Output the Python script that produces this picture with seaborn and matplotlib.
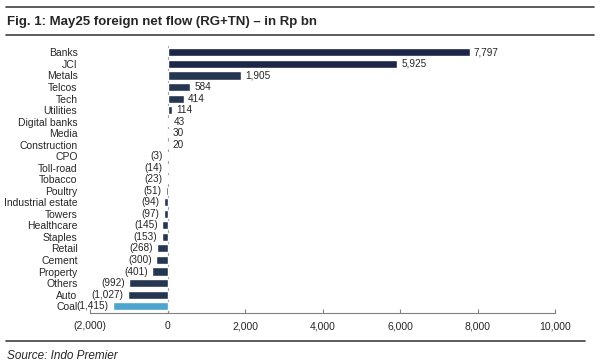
import matplotlib
matplotlib.use('Agg')
import matplotlib.pyplot as plt
import pandas as pd
import seaborn as sns

sectors = ['Banks', 'JCI', 'Metals', 'Telcos', 'Tech', 'Utilities', 'Digital banks', 'Media',
           'Construction', 'CPO', 'Toll-road', 'Tobacco', 'Poultry', 'Industrial estate', 'Towers',
           'Healthcare', 'Staples', 'Retail', 'Cement', 'Property', 'Others', 'Auto', 'Coal']
net_flow = [7797, 5925, 1905, 584, 414, 114, 43, 30, 20, -3, -14, -23, -51, -94, -97,
            -145, -153, -268, -300, -401, -992, -1027, -1415]
xticks = [-2000, 0, 2000, 4000, 6000, 8000, 10000]

df = pd.DataFrame({'sector': sectors, 'flow': net_flow})
# colour groups: index/banks darker navy, coal highlighted
df['grp'] = ['top' if s in ('Banks', 'JCI') else ('coal' if s == 'Coal' else 'other') for s in sectors]
pal = {'top': '#16204f', 'other': '#1d3557', 'coal': '#35ade2'}

sns.set_style('white')
plt.rcParams['font.family'] = ['Liberation Sans', 'DejaVu Sans']

fig = plt.figure(figsize=(6, 3.64), dpi=100)
ax = fig.add_axes([0.15, 0.14, 0.775, 0.735])
sns.barplot(data=df, x='flow', y='sector', hue='grp', palette=pal, dodge=False,
            width=0.7, legend=False, ax=ax, orient='h')

def fmt(v):
    return f'({abs(v):,.0f})' if v < 0 else f'{v:,.0f}'

for c in ax.containers:
    ax.bar_label(c, labels=[fmt(v) for v in c.datavalues], padding=3, fontsize=7.2)

ax.set_xlim(-2000, 10000)
ax.set_ylim(len(sectors) - 0.4, -0.6)
ax.set_xticks(xticks)
ax.set_xticklabels([fmt(v) for v in xticks], fontsize=7.5)
ax.tick_params(axis='y', labelsize=7.5, length=0, pad=9)
ax.tick_params(axis='x', direction='in', length=3, color='#808080', pad=6)
ax.xaxis.set_ticks_position('bottom')
ax.set_xlabel('')
ax.set_ylabel('')
for s in ['top', 'right', 'left']:
    ax.spines[s].set_visible(False)
ax.spines['bottom'].set_color('#808080')
ax.spines['bottom'].set_linewidth(0.8)
ax.axvline(0, color='#a0a0a0', lw=0.8, zorder=0)

# header and footer rules
fig.add_artist(plt.Line2D([0.01, 0.99], [0.981, 0.981], color='#404040', lw=1.2))
fig.add_artist(plt.Line2D([0.01, 0.99], [0.905, 0.905], color='#404040', lw=1.2))
fig.add_artist(plt.Line2D([0.01, 0.975], [0.063, 0.063], color='#404040', lw=1.2))
fig.text(0.012, 0.94, 'Fig. 1: May25 foreign net flow (RG+TN) \u2013 in Rp bn',
         fontsize=9.5, fontweight='bold', va='center')
fig.text(0.012, 0.022, 'Source: Indo Premier', fontsize=8.5, style='italic', va='center')

fig.savefig('out.png', dpi=100)
